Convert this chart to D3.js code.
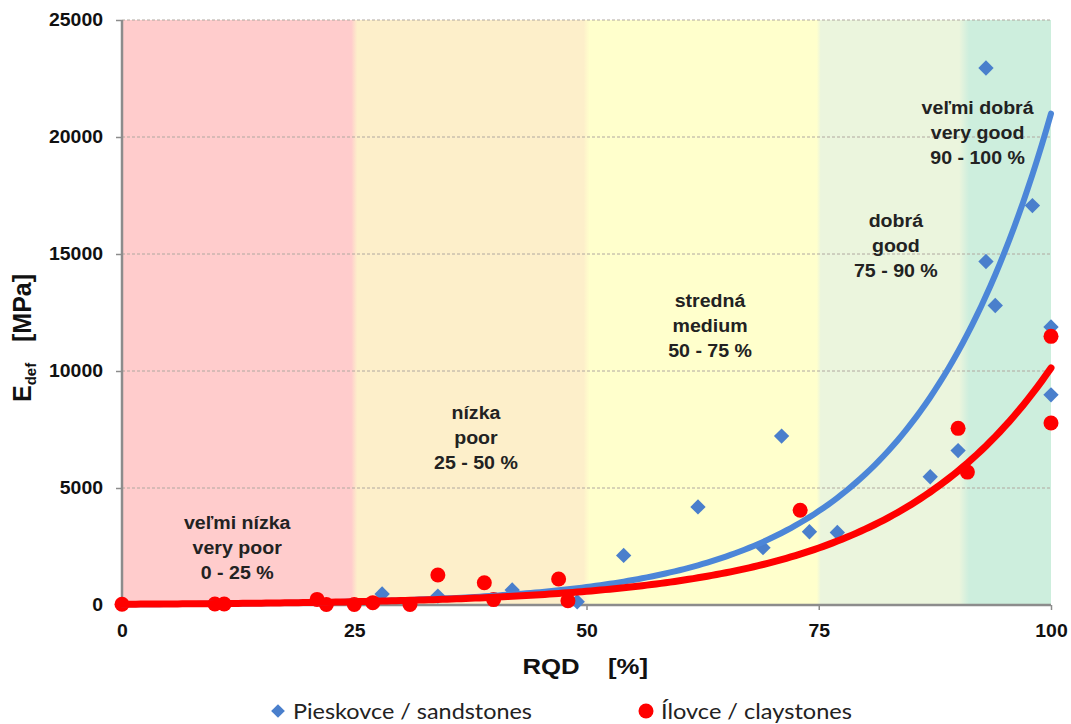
<!DOCTYPE html>
<html>
<head>
<meta charset="utf-8">
<script src="https://cdn.jsdelivr.net/npm/d3@7"></script>
<style>
  html, body { margin: 0; padding: 0; background: #fff; }
  svg { display: block; }
</style>
</head>
<body>
<svg id="chart" width="1071" height="724"></svg>
<script>
// ---- data ----
const sandRQD  = [28, 34, 42, 49, 54, 62, 69, 71, 74, 77, 87, 90, 93, 93, 94, 98, 100, 100];
const sandEdef = [470, 380, 640, 140, 2120, 4190, 2450, 7220, 3130, 3100, 5480, 6600, 22950, 14680, 12800, 17070, 11880, 8980];

const clayRQD  = [0, 10, 11, 21, 22, 25, 27, 31, 34, 39, 40, 47, 48, 73, 90, 91, 100, 100];
const clayEdef = [30, 40, 40, 240, 20, 20, 100, 20, 1280, 950, 230, 1110, 180, 4050, 7550, 5680, 11480, 7780];

// exponential trendlines  y = a * exp(b * x)  (coefficients)
const sandTrend = { a: 28, b: 0.0662 };
const clayTrend = { a: 33.9, b: 0.0570 };

const zoneBounds = [0, 25, 50, 75, 90, 100];
const zoneColors = ["#ffcccc", "#fdefca", "#ffffcc", "#ebf5dd", "#cdeedd"];
const zoneLabels = [
  ["veľmi nízka", "very poor", "0 - 25 %"],
  ["nízka", "poor", "25 - 50 %"],
  ["stredná", "medium", "50 - 75 %"],
  ["dobrá", "good", "75 - 90 %"],
  ["veľmi dobrá", "very good", "90 - 100 %"]
];
// label anchor positions in data units (x = RQD centre, y = first-line E_def)
const zoneLabelX = [12.4, 38.1, 63.3, 83.3, 92.1];
const zoneLabelY = [3230, 7930, 12750, 16140, 21000];

const xTicks = [0, 25, 50, 75, 100];
const yTicks = [0, 5000, 10000, 15000, 20000, 25000];
const legendItems = ["Pieskovce / sandstones", "Ílovce / claystones"];

// ---- layout ----
const svg = d3.select("#chart");
const L = 122, R = 1051, T = 20, B = 605;
const x = d3.scaleLinear().domain([0, 100]).range([L, R]);
const y = d3.scaleLinear().domain([0, 25000]).range([B, T]);
const SX = 1.12; // horizontal stretch of the reference lettering
const FONT = "Liberation Sans, Arial, sans-serif";

const BLUE = "#4a7fcc";
const BLUE_LINE = "#4c86d8";
const RED = "#ff0000";

// background gradient zones
const defs = svg.append("defs");
const grad = defs.append("linearGradient").attr("id", "zones")
  .attr("gradientUnits", "userSpaceOnUse")
  .attr("x1", L).attr("x2", R).attr("y1", 0).attr("y2", 0);
const soft = [0, 3, 3, 2, 5];
const shift = [0, 0, 0, 0, 6];
zoneColors.forEach((c, i) => {
  const x0 = x(zoneBounds[i]) + shift[i], x1 = x(zoneBounds[i + 1]) + (shift[i + 1] || 0);
  const o0 = (i === 0 ? 0 : (x0 + soft[i] - L) / (R - L));
  const o1 = (i === zoneColors.length - 1 ? 1 : (x1 - soft[i + 1] - L) / (R - L));
  grad.append("stop").attr("offset", o0).attr("stop-color", c);
  grad.append("stop").attr("offset", o1).attr("stop-color", c);
});
svg.append("rect").attr("x", L).attr("y", T).attr("width", R - L).attr("height", B - T)
  .attr("fill", "url(#zones)");

// gridlines
svg.append("g").selectAll("line").data(yTicks.filter(d => d > 0)).join("line")
  .attr("x1", L).attr("x2", R).attr("y1", d => y(d)).attr("y2", d => y(d))
  .attr("stroke", "#b0a8a0").attr("stroke-width", 1).attr("stroke-dasharray", "3,2");

// zone labels
const zg = svg.append("g").attr("font-family", FONT)
  .attr("font-weight", "bold").attr("font-size", 17.5).attr("fill", "#222").attr("text-anchor", "middle");
zoneLabels.forEach((lines, i) => {
  const t = zg.append("text")
    .attr("transform", `translate(${x(zoneLabelX[i])},${y(zoneLabelY[i])}) scale(${SX},1)`);
  lines.forEach((s, j) => t.append("tspan").attr("x", 0).attr("dy", j === 0 ? 0 : 25).text(s));
});

// axes
const yAxis = d3.axisLeft(y).tickValues(yTicks).tickSize(6).tickPadding(0).tickFormat(d3.format("d"));
const gy = svg.append("g").attr("transform", `translate(${L},0)`).call(yAxis);
const xAxis = d3.axisBottom(x).tickValues(xTicks).tickSize(5).tickPadding(14).tickFormat(d3.format("d"));
const gx = svg.append("g").attr("transform", `translate(0,${B})`).call(xAxis);
[gx, gy].forEach(g => {
  g.select(".domain").attr("stroke", "#8c8c8c").attr("stroke-width", 2.5);
  g.selectAll(".tick line").attr("stroke", "#8c8c8c").attr("stroke-width", 1.5);
  g.selectAll(".tick text").attr("font-family", FONT)
    .attr("font-weight", "bold").attr("font-size", 18).attr("fill", "#111");
});
gy.selectAll(".tick text").attr("x", 0).attr("transform", `translate(-19,0) scale(1.08,1)`);
gx.selectAll(".tick text").attr("transform", `scale(1.08,1)`);
gx.select(".domain").attr("d", `M${L},0H${R}`);
gy.select(".domain").attr("d", `M0,${T}V${B}`);

// markers
const sand = sandRQD.map((r, i) => ({ r, e: sandEdef[i] }));
const clay = clayRQD.map((r, i) => ({ r, e: clayEdef[i] }));
const diamond = d3.symbol().type(d3.symbolDiamond2).size(150);
svg.append("g").selectAll("path").data(sand).join("path")
  .attr("d", diamond).attr("transform", d => `translate(${x(d.r)},${y(d.e)})`)
  .attr("fill", BLUE);
svg.append("g").selectAll("circle").data(clay).join("circle")
  .attr("cx", d => x(d.r)).attr("cy", d => y(d.e)).attr("r", 7.5)
  .attr("fill", RED);

// trendlines
const xs = d3.range(0, 100.001, 0.5);
const line = d3.line().x(d => x(d[0])).y(d => y(d[1]));
svg.append("path").datum(xs.map(v => [v, sandTrend.a * Math.exp(sandTrend.b * v)]))
  .attr("d", line).attr("fill", "none").attr("stroke", BLUE_LINE).attr("stroke-width", 6)
  .attr("stroke-linecap", "round");
svg.append("path").datum(xs.map(v => [v, clayTrend.a * Math.exp(clayTrend.b * v)]))
  .attr("d", line).attr("fill", "none").attr("stroke", RED).attr("stroke-width", 7)
  .attr("stroke-linecap", "round");

// axis titles
const xt = svg.append("g").attr("font-family", FONT).attr("font-weight", "bold")
  .attr("font-size", 23).attr("fill", "#111").attr("text-anchor", "middle");
xt.append("text").attr("transform", `translate(551,674) scale(${SX},1)`).text("RQD");
xt.append("text").attr("transform", `translate(628,674) scale(${SX},1)`).text("[%]");

const yt = svg.append("text").attr("transform", "translate(31,338) rotate(-90)").attr("text-anchor", "middle")
  .attr("font-family", FONT).attr("font-weight", "bold")
  .attr("font-size", 25).attr("fill", "#111").attr("xml:space", "preserve");
yt.append("tspan").text("E");
yt.append("tspan").attr("font-size", 15).attr("dy", 5).text("def");
yt.append("tspan").attr("dy", -5).text("   [MPa]");

// legend
const lg = svg.append("g").attr("font-family", "Lato, 'Open Sans', sans-serif").attr("font-size", 22).attr("fill", "#222");
lg.append("path").attr("d", d3.symbol().type(d3.symbolDiamond2).size(120))
  .attr("transform", "translate(278,711)").attr("fill", BLUE);
lg.append("text").attr("x", 293).attr("y", 719).attr("textLength", 239).attr("lengthAdjust", "spacingAndGlyphs").text(legendItems[0]);
lg.append("circle").attr("cx", 646).attr("cy", 711).attr("r", 7.5).attr("fill", RED);
lg.append("text").attr("x", 661).attr("y", 719).attr("textLength", 191).attr("lengthAdjust", "spacingAndGlyphs").text(legendItems[1]);
</script>
</body>
</html>
